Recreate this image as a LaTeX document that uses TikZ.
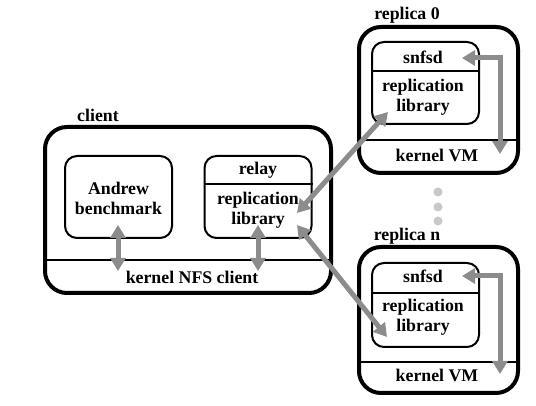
\documentclass[tikz,border=0pt]{standalone}
\usepackage{fontspec}
\setmainfont{Liberation Serif}
\usetikzlibrary{arrows.meta}
\definecolor{arrowgray}{RGB}{140,140,140}
\definecolor{dotgray}{RGB}{200,200,200}

\begin{document}
\begin{tikzpicture}[x=0.5pt,y=-0.5pt,
  host/.style={draw,line width=2pt,rounded corners=11pt,inner sep=0pt},
  proc/.style={draw,line width=1pt,rounded corners=6pt,inner sep=0pt,minimum width=53.5pt},
  lbl/.style={font=\fontsize{8.9}{10}\selectfont\bfseries,align=center,inner sep=0pt},
  link/.style={draw=arrowgray,line width=2.5pt,{Triangle[width=7.5pt,length=6.5pt]}-{Triangle[width=7.5pt,length=6.5pt]}},
  dot/.style={circle,fill=dotgray,inner sep=0pt,minimum size=4.5pt}]
\useasboundingbox (0,0) rectangle (536,406);
% client
\node[host,minimum width=143pt,minimum height=83pt] (client) at (188,210) {};
\draw[line width=1pt] (client.west |- 0,260) -- (client.east |- 0,260);
\node[lbl] (clientlbl) at (98,115) {client};
\node[proc,minimum height=41pt] (andrew) at (118.5,197) {};
\node[lbl] (andrewtxt) at (118.5,198) {Andrew\\benchmark};
\node[proc,minimum height=41pt] (relay) at (258,197) {};
\draw[line width=1pt] (relay.west |- 0,184) -- (relay.east |- 0,184);
\node[lbl] (relaytxt) at (258,170) {relay};
\node[lbl] (clientlib) at (258,210) {replication\\library};
\node[lbl] (nfs) at (192,277) {kernel NFS client};
% replica 0
\node[host,minimum width=79.5pt,minimum height=73pt] (rep0) at (438.5,100) {};
\draw[line width=1pt] (rep0.west |- 0,140) -- (rep0.east |- 0,140);
\node[lbl] (rep0lbl) at (407,15) {replica 0};
\node[proc,minimum height=41pt] (srv0) at (425.5,83) {};
\draw[line width=1pt] (srv0.west |- 0,71) -- (srv0.east |- 0,71);
\node[lbl] (snfsd0) at (423,57) {snfsd};
\node[lbl] (lib0) at (423,97) {replication\\library};
\node[lbl] (vm0) at (437,155) {kernel VM};
% replica n
\node[host,minimum width=79.5pt,minimum height=73pt] (repn) at (438.5,320) {};
\draw[line width=1pt] (repn.west |- 0,362) -- (repn.east |- 0,362);
\node[lbl] (replbl) at (407,236) {replica n};
\node[proc,minimum height=42pt] (srvn) at (425.5,305) {};
\draw[line width=1pt] (srvn.west |- 0,293) -- (srvn.east |- 0,293);
\node[lbl] (snfsdn) at (423,276) {snfsd};
\node[lbl] (libn) at (423,317) {replication\\library};
\node[lbl] (vmn) at (437,375) {kernel VM};
% dots
\node[dot] (dota) at (438,192) {};
\node[dot] (dotb) at (438,207) {};
\node[dot] (dotc) at (438,221) {};
% arrow ends
\coordinate (a1) at (118,225);
\coordinate (a2) at (118,271);
\coordinate (b1) at (258,225);
\coordinate (b2) at (258,271);
\coordinate (c1) at (297,213);
\coordinate (c2) at (388,112);
\coordinate (d1) at (297,225);
\coordinate (d2) at (387,337);
\coordinate (e1) at (462,58);
\coordinate (e2) at (500,154);
\coordinate (f1) at (462,276);
\coordinate (f2) at (500,374);
\draw[link] (a1) -- (a2);
\draw[link] (b1) -- (b2);
\draw[link] (c1) -- (c2);
\draw[link] (d1) -- (d2);
\draw[link] (e1) -| (e2);
\draw[link] (f1) -| (f2);
\end{tikzpicture}
\end{document}
